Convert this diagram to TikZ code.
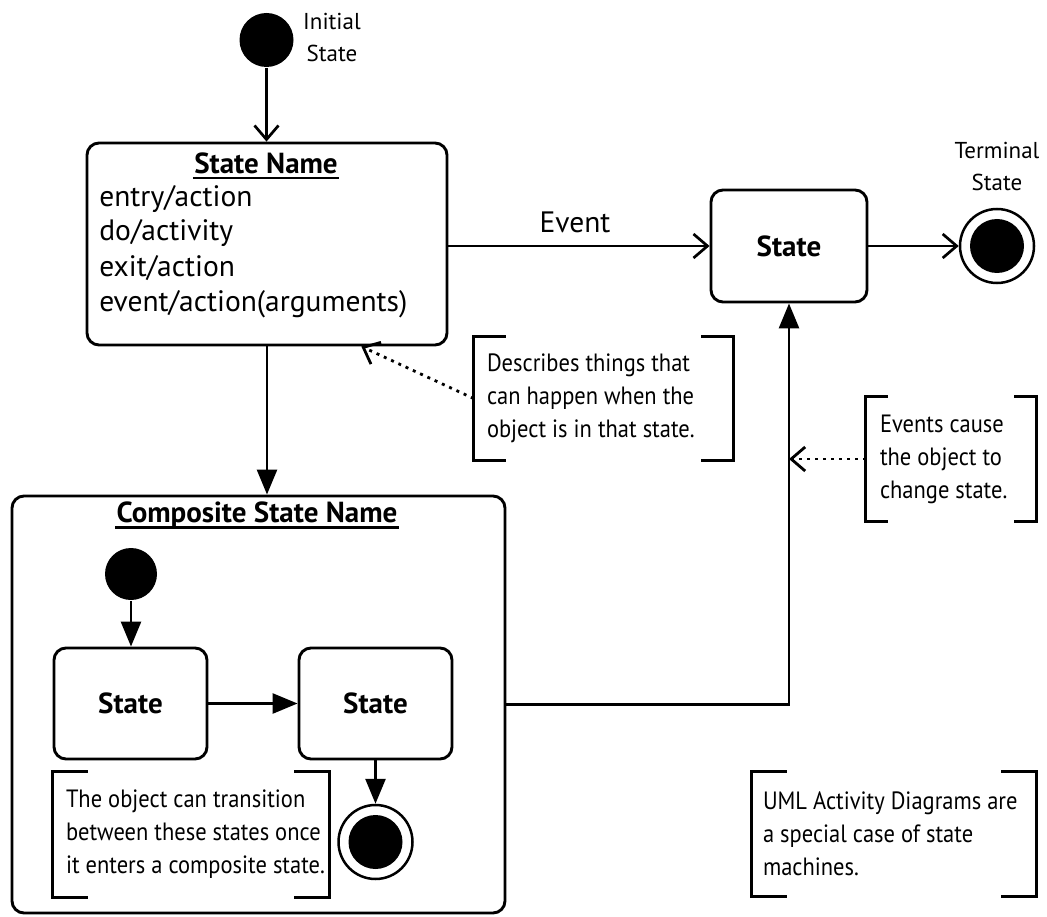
\documentclass[tikz,border=0pt]{standalone}
\usepackage{fontspec}
\setmainfont{PT Sans}
\newfontfamily\notefont[FakeStretch=0.9]{PT Sans}
\usetikzlibrary{arrows.meta,calc}
\begin{document}
\begin{tikzpicture}[x=1pt,y=-1pt, line width=2.7pt,
  statebox/.style={draw, rounded corners=12pt, line width=2.9pt, inner sep=0pt},
  startdot/.style={circle, fill=black, minimum size=54pt, inner sep=0pt},
  enddot/.style={circle, draw, line width=2.5pt, minimum size=74pt, inner sep=0pt,
     path picture={\fill (path picture bounding box.center) circle (27pt);}},
  openarrow/.style={-{Straight Barb[length=14pt,width=24pt]}},
  filledarrow/.style={-{Triangle[length=25pt,width=20pt]}},
  dotline/.style={dash pattern=on 3pt off 5pt, line width=2.8pt},
  notebrk/.style={inner sep=0pt},
  notetxt/.style={font=\notefont\fontsize{25}{33}\selectfont, align=left, inner sep=0pt, anchor=west},
  bodytxt/.style={font=\fontsize{29.5}{35}\selectfont, inner sep=0pt, anchor=base west},
  boldtxt/.style={font=\bfseries\fontsize{29}{35}\selectfont, inner sep=0pt},
  labtxt/.style={font=\fontsize{23}{32}\selectfont, align=center, inner sep=0pt},
  uline/.style={line width=2.4pt}
]
\fill[white] (0,0) rectangle (1047,917);
\useasboundingbox (0,0) rectangle (1047,917);

% top initial state
\node[startdot] (init) at (266.5,40) {};
\node[labtxt] (initlab) at (332,37) {Initial\\State};

% State Name box
\node[statebox, minimum width=360pt, minimum height=202pt] (sn) at (267,244) {};
\node[boldtxt] (snt) at (266,163) {State Name};
\draw[uline] ([yshift=-5pt]snt.base west) -- ([yshift=-5pt]snt.base east);
\node[bodytxt] (l1) at (98,207) {entry/action};
\node[bodytxt] (l2) at (98,241) {do/activity};
\node[bodytxt] (l3) at (98,277) {exit/action};
\node[bodytxt] (l4) at (98,312) {event/action(arguments)};

% right State and terminal
\node[statebox, minimum width=156pt, minimum height=112pt, font=\bfseries\fontsize{29}{35}\selectfont] (st) at (789,246) {State};
\node[enddot] (term) at (997,246) {};
\node[labtxt] (termlab) at (997,166) {Terminal\\State};

\draw[openarrow] (init) -- (init |- sn.north);
\draw[openarrow] (sn.east |- st.west) -- (st.west);
\node[font=\fontsize{29.5}{35}\selectfont, inner sep=0pt] (ev) at (575,222) {Event};
\draw[openarrow] (st) -- (term);

% composite state
\node[statebox, minimum width=493pt, minimum height=417pt] (comp) at (258.5,704.5) {};
\draw[filledarrow] (sn.south) -- (sn.south |- comp.north);
\node[boldtxt] (compt) at (257,515) {Composite State Name};
\draw[uline] ([yshift=-5pt]compt.base west) -- ([yshift=-5pt]compt.base east);
\node[startdot, minimum size=52pt] (init2) at (131,574) {};
\node[statebox, minimum width=153pt, minimum height=111pt, font=\bfseries\fontsize{29}{35}\selectfont] (s1) at (130.5,703.5) {State};
\node[statebox, minimum width=153pt, minimum height=111pt, font=\bfseries\fontsize{29}{35}\selectfont] (s2) at (375.5,703.5) {State};
\node[enddot] (fin) at (375.5,842) {};
\draw[filledarrow] (init2) -- (init2 |- s1.north);
\draw[filledarrow] (s1) -- (s2);
\draw[filledarrow] (s2.south) -- (fin.north);
\draw[filledarrow] (comp.east) -| (st.south);

% note 1
\node[notebrk, minimum width=257pt, minimum height=121pt] (n1) at (603.5,398.5) {};
\draw ([xshift=32pt]n1.north west) -- (n1.north west) -- (n1.south west) -- ([xshift=32pt]n1.south west);
\draw ([xshift=-32pt]n1.north east) -- (n1.north east) -- (n1.south east) -- ([xshift=-32pt]n1.south east);
\node[notetxt] (n1t) at ([xshift=12pt]n1.west) {Describes things that\\can happen when the\\object is in that state.};
\coordinate (snhit) at ($(sn.south west)!0.76!(sn.south east)$);
\draw[dotline, openarrow] (n1.west) -- (snhit);

% note 2
\node[notebrk, minimum width=168pt, minimum height=122pt] (n2) at (951,459) {};
\draw ([xshift=22pt]n2.north west) -- (n2.north west) -- (n2.south west) -- ([xshift=22pt]n2.south west);
\draw ([xshift=-22pt]n2.north east) -- (n2.north east) -- (n2.south east) -- ([xshift=-22pt]n2.south east);
\node[notetxt] (n2t) at ([xshift=13pt]n2.west) {Events cause\\the object to\\change state.};
\draw[dotline, openarrow] (n2.west) -- (st.south |- n2.west);

% note 3
\node[notebrk, minimum width=274pt, minimum height=123pt] (n3) at (191,834.5) {};
\draw ([xshift=35pt]n3.north west) -- (n3.north west) -- (n3.south west) -- ([xshift=35pt]n3.south west);
\draw ([xshift=-35pt]n3.north east) -- (n3.north east) -- (n3.south east) -- ([xshift=-35pt]n3.south east);
\node[notetxt] (n3t) at ([xshift=12pt]n3.west) {The object can transition\\between these states once\\it enters a composite state.};

% note 4
\node[notebrk, minimum width=282pt, minimum height=122pt] (n4) at (894,834) {};
\draw ([xshift=35pt]n4.north west) -- (n4.north west) -- (n4.south west) -- ([xshift=35pt]n4.south west);
\draw ([xshift=-35pt]n4.north east) -- (n4.north east) -- (n4.south east) -- ([xshift=-35pt]n4.south east);
\node[notetxt] (n4t) at ([xshift=10pt]n4.west) {UML Activity Diagrams are\\a special case of state\\machines.};
\end{tikzpicture}
\end{document}
